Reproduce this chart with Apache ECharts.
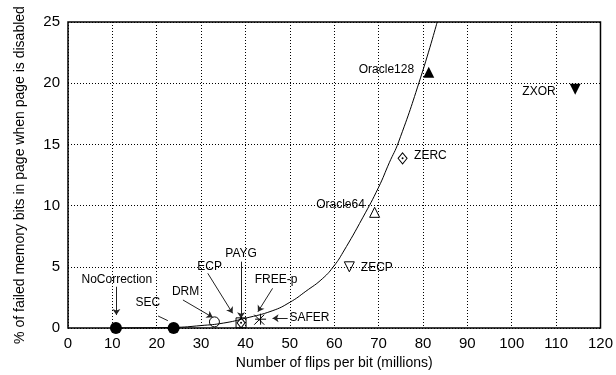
<!DOCTYPE html>
<html>
<head>
<meta charset="utf-8">
<script src="https://cdn.jsdelivr.net/npm/echarts@6/dist/echarts.min.js"></script>
<style>
html,body{margin:0;padding:0;background:#fff;}
#chart{width:616px;height:375px;}
</style>
</head>
<body>
<div id="chart"></div>
<script>
// ---- data ----
const methods   = ['NoCorrection','SEC','DRM','ECP','PAYG','FREE-p','SAFER','ZECP','Oracle64','ZERC','Oracle128','ZXOR'];
const flips     = [10.8, 23.8, 33.0, 39.0, 39.0, 43.4, 43.1, 63.4, 69.1, 75.4, 81.3, 114.3];
const failedPct = [0, 0, 0.5, 0.42, 0.42, 0.72, 0.68, 5.0, 9.45, 13.86, 20.9, 19.5];

// fitted curve
const curveX = [10.8, 23.8, 30, 35, 40, 46, 50, 53.6, 57.4, 60, 62, 66.4, 70, 72.4, 74.5, 79.5, 83.2];
const curveY = [0, 0.05, 0.2, 0.4, 0.8, 1.4, 2.1, 3.0, 4.05, 5.1, 6.2, 9.0, 11.5, 13.5, 15.2, 20.5, 25];

// annotation labels (data space)
const noteText = ['NoCorrection','SEC','DRM','ECP','PAYG','FREE-p','SAFER','Oracle128','ZERC','Oracle64','ZECP','ZXOR'];
const noteX    = [11.0, 18.0, 26.5, 31.9, 39.0, 46.9, 49.9, 78.0, 78.0, 66.9, 66.0, 109.9];
const noteY    = [3.98, 2.07, 2.97, 5.0, 6.1, 3.92, 0.87, 21.1, 14.05, 10.1, 4.96, 19.3];
const noteAlign= ['center','center','center','center','center','center','left','right','left','right','left','right'];

// annotation arrows (data space)
const arrowFrom = [[10.9,3.37],[20.3,0.98],[25.9,2.29],[31.5,4.47],[39.0,5.42],[46.1,3.24],[49.5,0.79]];
const arrowTo   = [[10.9,1.06],[22.5,0.6],[32.6,0.87],[37.1,1.2],[39.0,0.79],[42.8,1.33],[46.1,0.79]];
const arrowHead = [true,false,true,true,true,true,true];

// ---- styles ----
const FONT = '"Liberation Sans", Arial, Helvetica, sans-serif';
const open = {color:'rgba(0,0,0,0)', borderColor:'#000', borderWidth:1, opacity:1};
const filled = {color:'#000', opacity:1};
const strokeOnly = {color:'rgba(0,0,0,0)', borderColor:'#000', borderWidth:1, opacity:1};
const markerStyle = {
  'NoCorrection': {symbol:'circle', size:12, style:filled},
  'SEC':          {symbol:'circle', size:12, style:filled},
  'DRM':          {symbol:'circle', size:10, style:open},
  'ECP':          {symbol:'rect', size:10, style:open},
  'PAYG':         {symbol:'diamond', size:[8,10], style:open, dot:true},
  'FREE-p':       {symbol:'path://M5,0L5,10M0,5L10,5', size:11, style:strokeOnly},
  'SAFER':        {symbol:'path://M0,0L10,10M10,0L0,10', size:10, style:strokeOnly},
  'ZECP':         {symbol:'triangle', size:10, style:open, rotate:180},
  'Oracle64':     {symbol:'triangle', size:10, style:open},
  'ZERC':         {symbol:'diamond', size:[9,11], style:open, dot:true},
  'Oracle128':    {symbol:'triangle', size:11, style:filled},
  'ZXOR':         {symbol:'triangle', size:11, style:filled, rotate:180}
};

const series = [];
series.push({
  type:'line', name:'fit', data: curveX.map((x,i)=>[x, curveY[i]]),
  showSymbol:false, smooth:0.5,
  lineStyle:{color:'#000', width:1}, z:2, silent:true
});
methods.forEach((m,i)=>{
  const s = markerStyle[m];
  series.push({
    type:'scatter', name:m, data:[[flips[i], failedPct[i]]],
    symbol:s.symbol, symbolSize:s.size, symbolRotate:s.rotate||0,
    itemStyle:s.style, clip:false, z:5, silent:true
  });
  if (s.dot) {
    series.push({
      type:'scatter', name:m+'-dot', data:[[flips[i], failedPct[i]]],
      symbol:'circle', symbolSize:2, itemStyle:{color:'#000', opacity:1}, clip:false, z:6, silent:true
    });
  }
});
series.push({
  type:'lines', coordinateSystem:'cartesian2d', z:4, silent:true,
  data: arrowFrom.map((f,i)=>({
    coords:[f, arrowTo[i]],
    symbol:['none', arrowHead[i] ? 'arrow' : 'none'], symbolSize:6
  })),
  lineStyle:{color:'#222', width:1, opacity:1}
});
series.push({
  type:'scatter', name:'notes', symbolSize:0, z:7, silent:true, clip:false,
  itemStyle:{color:'#000', opacity:1},
  data: noteText.map((t,i)=>({
    value:[noteX[i], noteY[i]], name:t,
    label:{align:noteAlign[i]}
  })),
  label:{show:true, position:'inside', formatter:p=>p.name, color:'#000', opacity:1,
         textBorderWidth:0, textShadowBlur:0,
         fontFamily:FONT, fontSize:12, verticalAlign:'middle'}
});

const chart = echarts.init(document.getElementById('chart'), null, {renderer:'canvas'});
chart.setOption({
  backgroundColor:'#fff',
  animation:false,
  grid:{left:68, right:14, top:22, bottom:47, show:true, borderColor:'#000', borderWidth:1.5, backgroundColor:'rgba(0,0,0,0)'},
  xAxis:{
    type:'value', min:0, max:120, interval:10,
    name:'Number of flips per bit (millions)', nameLocation:'middle', nameGap:25,
    nameTextStyle:{fontFamily:FONT, fontSize:14, color:'#000'},
    axisLine:{show:false}, axisTick:{show:false},
    axisLabel:{fontFamily:FONT, fontSize:15, color:'#000', margin:8},
    splitLine:{show:true, lineStyle:{type:[1,2], color:'#000', width:1}}
  },
  yAxis:{
    type:'value', min:0, max:25, interval:5,
    name:'% of failed memory bits in page when page is disabled', nameLocation:'middle', nameGap:41,
    nameTextStyle:{fontFamily:FONT, fontSize:14, color:'#000'},
    axisLine:{show:false}, axisTick:{show:false},
    axisLabel:{fontFamily:FONT, fontSize:15, color:'#000', margin:8},
    splitLine:{show:true, lineStyle:{type:[1,2], color:'#000', width:1}}
  },
  series: series
});
</script>
</body>
</html>
